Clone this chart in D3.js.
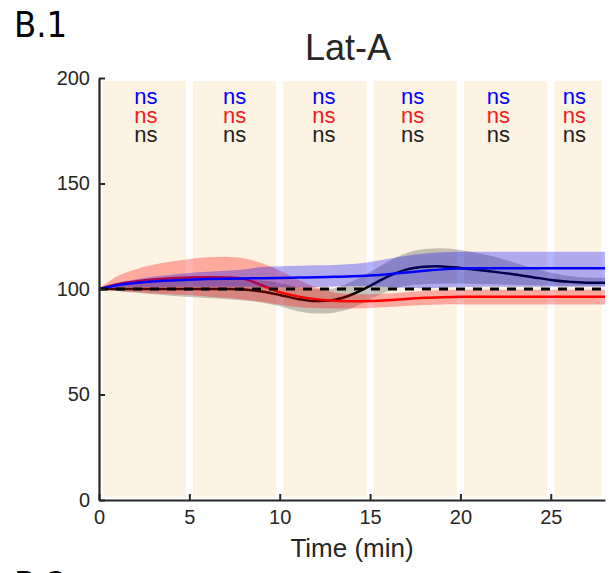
<!DOCTYPE html>
<html>
<head>
<meta charset="utf-8">
<script src="https://cdn.jsdelivr.net/npm/d3@7"></script>
<style>
  html, body { margin: 0; padding: 0; background: #ffffff; }
  svg { display: block; }
  text { font-family: "Liberation Sans", Arial, Helvetica, sans-serif; }
</style>
</head>
<body>
<svg id="chart" width="610" height="573"></svg>
<script>
// Time grid (min) shared by every series
const times = d3.range(0, 29);

// Black series: mean and shaded band
const blackMean  = [100,100,100,100,100,100,100,100,99.8,98.8,97.2,95.3,94.3,94.8,97.4,101.5,106,109.2,110.5,110.7,110,109,108,106.9,105.6,104.3,103.4,103,103];
const blackUpper = [100,101.5,102.5,103.2,103.8,104.2,104.5,104.6,104.5,104,102.8,101,100,100.2,103.5,108,113,117,118.9,119.3,118.5,117,115,112.5,110,107.8,106.2,105.5,105.3];
const blackLower = [100,99,98.2,97.5,96.8,96.2,95.7,95.2,94.6,93.6,91.8,89.5,88.4,88.8,91,95,99,101.5,102.3,102.6,102.6,102.4,102.2,102,101.8,101.6,101.5,101.5,101.5];

// Red series
const redMean  = [100,102.3,103.6,104.5,105.1,105.5,105.6,105.5,104.8,101.8,98.5,96.5,95.2,94.4,94.2,94.3,94.7,95.3,95.8,96.1,96.3,96.3,96.3,96.3,96.3,96.3,96.3,96.3,96.3];
const redUpper = [100,106,109.3,111.5,113,114.2,115,115.3,114.6,112.3,108.8,104.5,100.8,98.4,97.5,97.5,97.9,98.5,99,99.5,99.6,99.6,99.6,99.6,99.6,99.6,99.6,99.6,99.6];
const redLower = [100,99.2,98.6,98,97.5,97,96.5,95.8,95,94,92.5,91.5,91,90.8,90.8,91,91.5,92,92.4,92.7,92.7,92.7,92.7,92.7,92.7,92.7,92.7,92.7,92.7];

// Blue series
const blueMean  = [100,101.8,102.8,103.5,104,104.4,104.7,104.9,105,105.1,105.2,105.4,105.6,105.8,106,106.4,107,107.8,108.6,109.3,109.7,109.8,109.8,109.8,109.8,109.8,109.8,109.8,109.8];
const blueUpper = [100,102.8,104.5,105.8,106.8,107.6,108.2,108.6,109.2,110.4,110.8,111,111.2,111.4,111.8,112.8,114.3,115.8,116.8,117.4,117.6,117.7,117.7,117.7,117.7,117.7,117.7,117.7,117.7];
const blueLower = [100,100.6,100.9,101,101,101.1,101.1,101.1,101.1,101,100.8,100.8,101,101.2,101.4,101.3,101,100.6,100.4,100.6,100.9,101.1,101.1,101.1,101.1,101.1,101.1,101.1,101.1];

// Reference level
const baseline = 100;

// Recording periods (min) shown as shaded columns
const periodStart = [0, 5, 10, 15, 20, 25];
const periodEnd   = [5, 10, 15, 20, 25, 28];

// Significance labels per period
const sigTimes = [2.6, 7.5, 12.45, 17.35, 22.1, 26.3];
const sigBlue  = ["ns", "ns", "ns", "ns", "ns", "ns"];
const sigRed   = ["ns", "ns", "ns", "ns", "ns", "ns"];
const sigBlack = ["ns", "ns", "ns", "ns", "ns", "ns"];

// Axis ticks
const xTicks = [0, 5, 10, 15, 20, 25];
const yTicks = [0, 50, 100, 150, 200];

const svg = d3.select("#chart");
const axisColor = "#262626";

const x = d3.scaleLinear().domain([0, 28]).range([99, 605]);
const y = d3.scaleLinear().domain([0, 200]).range([500, 78]);

// Panel letters
svg.append("text")
  .attr("x", 14).attr("y", 37)
  .style("font-family", "'Liberation Sans Narrow', 'DejaVu Sans Condensed', sans-serif")
  .style("font-size", "36px").attr("fill", "#000")
  .text("B.1");
svg.append("text")
  .attr("x", 14).attr("y", 597)
  .style("font-family", "'Liberation Sans Narrow', 'DejaVu Sans Condensed', sans-serif")
  .style("font-size", "36px").attr("fill", "#000")
  .text("B.2");

// Title
svg.append("text")
  .attr("x", 348).attr("y", 60)
  .attr("text-anchor", "middle")
  .style("font-size", "36px").attr("fill", axisColor)
  .text("Lat-A");

// Period columns
const inset = 3.5;
svg.append("g").selectAll("rect")
  .data(periodStart.map((s, i) => ({ s, e: periodEnd[i] })))
  .join("rect")
  .attr("x", d => x(d.s) + inset)
  .attr("width", d => x(d.e) - x(d.s) - 2 * inset)
  .attr("y", y(200) + 3)
  .attr("height", y(0) - y(200) - 6)
  .attr("fill", "#fdf3e3");

// Significance labels
const sig = svg.append("g").attr("text-anchor", "middle").style("font-size", "22px");
[[sigBlue, "#0000ff", 104], [sigRed, "#ee1c24", 123], [sigBlack, "#222222", 142]].forEach(([labels, color, yPos]) => {
  sig.selectAll(null)
    .data(labels.map((t, i) => ({ t, time: sigTimes[i] })))
    .join("text")
    .attr("x", d => x(d.time))
    .attr("y", yPos)
    .attr("fill", color)
    .text(d => d.t);
});

// Series: band first, then its mean line
const curve = d3.curveCatmullRom.alpha(0.5);
const area = (upper, lower) => d3.area()
  .x((d, i) => x(times[i]))
  .y0((d, i) => y(lower[i]))
  .y1((d, i) => y(upper[i]))
  .curve(curve)(times);
const line = (vals) => d3.line()
  .x((d, i) => x(times[i]))
  .y((d, i) => y(vals[i]))
  .curve(curve)(times);

const series = [
  { mean: blackMean, upper: blackUpper, lower: blackLower, line: "#000000", fill: "rgba(40,40,40,0.26)" },
  { mean: redMean,   upper: redUpper,   lower: redLower,   line: "#ff0000", fill: "rgba(255,0,0,0.3)" },
  { mean: blueMean,  upper: blueUpper,  lower: blueLower,  line: "#0000ff", fill: "rgba(0,0,255,0.3)" }
];
const plot = svg.append("g");
series.forEach(s => {
  plot.append("path").attr("d", area(s.upper, s.lower)).attr("fill", s.fill);
  plot.append("path").attr("d", line(s.mean))
    .attr("fill", "none").attr("stroke", s.line).attr("stroke-width", 2.5);
});

// Reference dashed line
plot.append("line")
  .attr("x1", x(0)).attr("x2", x(28))
  .attr("y1", y(baseline)).attr("y2", y(baseline))
  .attr("stroke", "#000").attr("stroke-width", 3)
  .attr("stroke-dasharray", "9,8");

// Axes
const xAxis = svg.append("g")
  .attr("transform", `translate(0,${y(0)})`)
  .call(d3.axisBottom(x).tickValues(xTicks).tickSizeInner(-6).tickSizeOuter(0).tickPadding(10));
const yAxis = svg.append("g")
  .attr("transform", `translate(${x(0)},0)`)
  .call(d3.axisLeft(y).tickValues(yTicks).tickSizeInner(-6).tickSizeOuter(0).tickPadding(9));
[xAxis, yAxis].forEach(g => {
  g.select(".domain").attr("stroke", axisColor).attr("stroke-width", 2.2);
  g.selectAll(".tick line").attr("stroke", axisColor).attr("stroke-width", 2);
  g.selectAll(".tick text").attr("fill", axisColor)
    .style("font-family", "'Liberation Sans', Arial, sans-serif").style("font-size", "20px");
});

// Axis label
svg.append("text")
  .attr("x", 352).attr("y", 557)
  .attr("text-anchor", "middle")
  .style("font-size", "26px").attr("fill", axisColor)
  .text("Time (min)");
</script>
</body>
</html>
